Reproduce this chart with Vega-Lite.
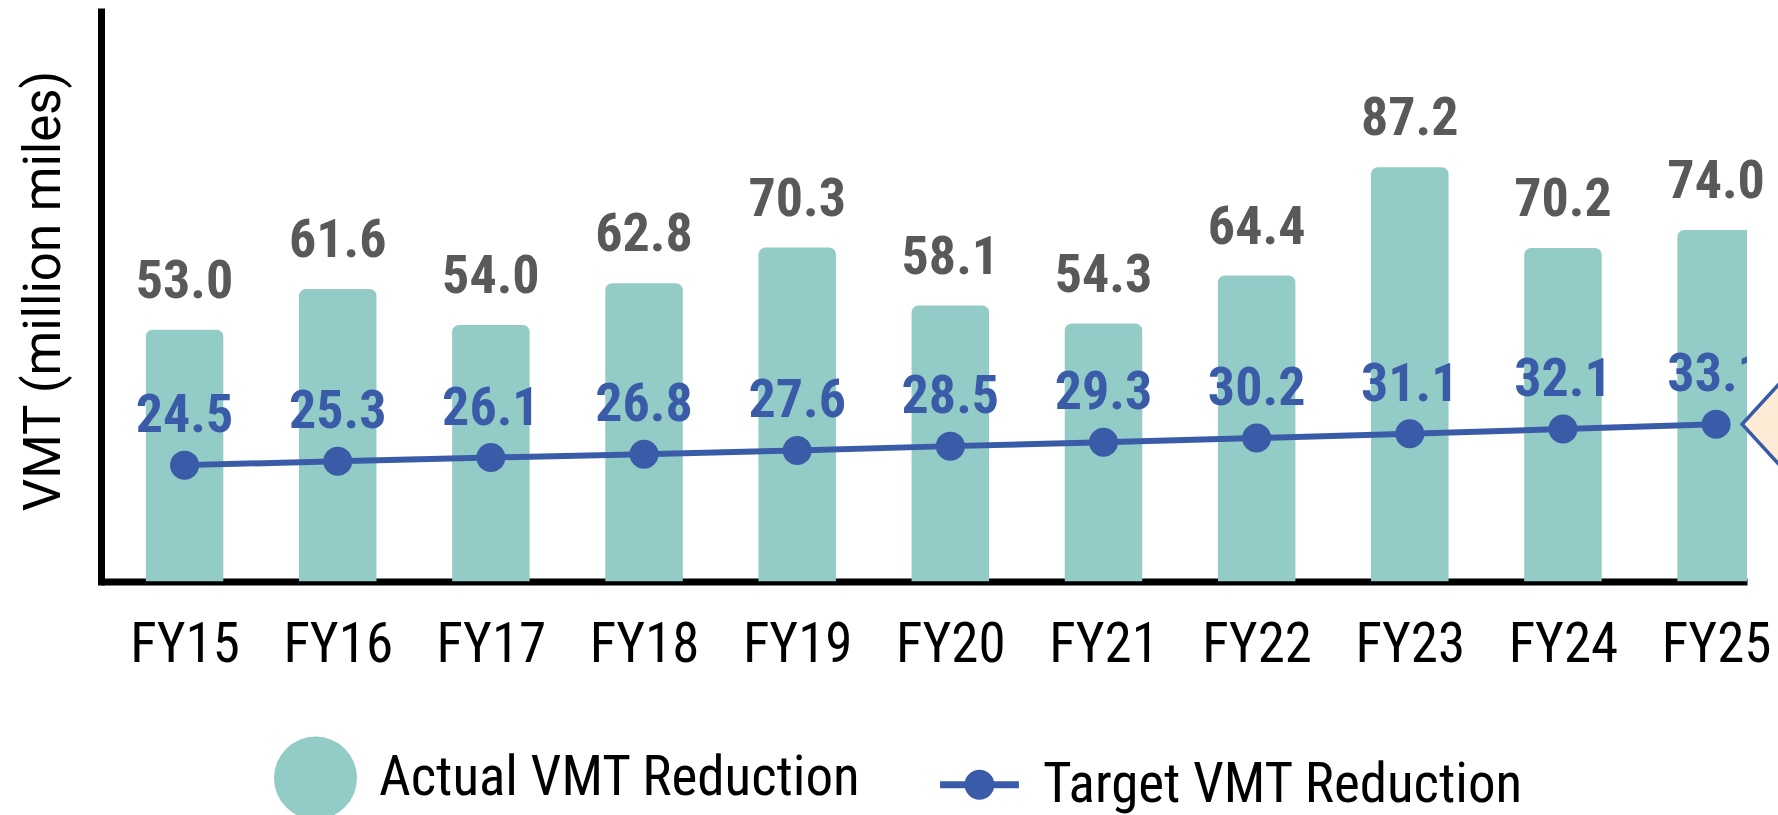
{
  "$schema": "https://vega.github.io/schema/vega-lite/v6.json",
  "width": 1646,
  "height": 570,
  "autosize": {"type": "none"},
  "padding": {"left": 101, "top": 11.5, "right": 31, "bottom": 233.5},
  "background": "white",
  "config": {
    "view": {"stroke": null},
    "axisY": {
      "grid": false,
      "ticks": false,
      "labels": false,
      "domainColor": "black",
      "domainWidth": 7,
      "domainCap": "square",
      "titleFont": "Roboto, sans-serif",
      "titleFontSize": 51,
      "titleFontWeight": "normal",
      "titleColor": "black",
      "titlePadding": 31,
      "titleY": 279
    },
    "legend": {
      "title": null,
      "orient": "none",
      "direction": "horizontal",
      "symbolSize": 6889,
      "symbolStrokeWidth": 0,
      "labelFont": "Roboto Condensed, Liberation Sans Narrow, DejaVu Sans Condensed, sans-serif",
      "labelFontSize": 55,
      "labelColor": "black",
      "labelOffset": 22,
      "columnPadding": 77,
      "labelLimit": 1000
    }
  },
  "data": {
    "values": [
      {"fy": 15, "actual": 53.0, "target": 24.5},
      {"fy": 16, "actual": 61.6, "target": 25.3},
      {"fy": 17, "actual": 54.0, "target": 26.1},
      {"fy": 18, "actual": 62.8, "target": 26.8},
      {"fy": 19, "actual": 70.3, "target": 27.6},
      {"fy": 20, "actual": 58.1, "target": 28.5},
      {"fy": 21, "actual": 54.3, "target": 29.3},
      {"fy": 22, "actual": 64.4, "target": 30.2},
      {"fy": 23, "actual": 87.2, "target": 31.1},
      {"fy": 24, "actual": 70.2, "target": 32.1},
      {"fy": 25, "actual": 74.0, "target": 33.1}
    ]
  },
  "encoding": {
    "x": {
      "field": "fy",
      "type": "quantitative",
      "scale": {"domain": [14.487, 25.169], "nice": false, "zero": false},
      "axis": {
        "title": null,
        "values": [15, 16, 17, 18, 19, 20, 21, 22, 23, 24, 25],
        "labelExpr": "'FY' + datum.value",
        "grid": false,
        "ticks": false,
        "tickSize": 0,
        "domainColor": "black",
        "domainWidth": 7,
        "labelFont": "Roboto Condensed, Liberation Sans Narrow, DejaVu Sans Condensed, sans-serif",
        "labelFontSize": 55,
        "labelColor": "black",
        "labelPadding": 37,
        "labelFlush": false,
        "labelOverlap": false,
        "labelBound": false
      }
    }
  },
  "layer": [
    {
      "mark": {"type": "bar", "orient": "vertical", "width": 77.5, "color": "#93CCC6", "cornerRadiusTopLeft": 7, "cornerRadiusTopRight": 7, "clip": true},
      "encoding": {
        "y": {
          "field": "actual",
          "type": "quantitative",
          "stack": null,
          "title": "VMT (million miles)",
          "scale": {"domain": [0, 120], "nice": false, "zero": true}
        },
        "y2": {"datum": 0}
      }
    },
    {
      "mark": {"type": "text", "dy": -32, "baseline": "alphabetic", "align": "center", "font": "Roboto Condensed, Liberation Sans Narrow, DejaVu Sans Condensed, sans-serif", "fontSize": 54, "fontWeight": "bold", "color": "#595959"},
      "encoding": {
        "y": {"field": "actual", "type": "quantitative", "title": "VMT (million miles)"},
        "text": {"field": "actual", "type": "quantitative", "format": ".1f"}
      }
    },
    {
      "mark": {"type": "line", "color": "#3A5CA8", "strokeWidth": 6},
      "encoding": {
        "y": {"field": "target", "type": "quantitative", "title": "VMT (million miles)"}
      }
    },
    {
      "mark": {"type": "point", "filled": true, "size": 841, "color": "#3A5CA8", "opacity": 1},
      "encoding": {
        "y": {"field": "target", "type": "quantitative", "title": "VMT (million miles)"}
      }
    },
    {
      "mark": {"type": "text", "clip": true, "dy": -33, "baseline": "alphabetic", "align": "center", "font": "Roboto Condensed, Liberation Sans Narrow, DejaVu Sans Condensed, sans-serif", "fontSize": 54, "fontWeight": "bold", "color": "#3A5CA8"},
      "encoding": {
        "y": {"field": "target", "type": "quantitative", "title": "VMT (million miles)"},
        "text": {"field": "target", "type": "quantitative", "format": ".1f"}
      }
    },
    {
      "transform": [{"filter": "datum.fy == 25"}],
      "mark": {"type": "point", "shape": "M 26 0 L 70 -48 L 70 -20 L 130 -20 L 130 20 L 70 20 L 70 48 Z", "size": 4, "filled": true, "fill": "#FDEBD6", "stroke": "#3A5CA8", "strokeWidth": 3.5, "opacity": 1},
      "encoding": {
        "y": {"field": "target", "type": "quantitative", "title": "VMT (million miles)"}
      }
    },
    {
      "data": {"values": []},
      "mark": {"type": "point", "filled": true, "opacity": 1},
      "encoding": {
        "color": {
          "field": "series",
          "type": "nominal",
          "scale": {"domain": ["Actual VMT Reduction", "Target VMT Reduction"], "range": ["#93CCC6", "#3A5CA8"]},
          "legend": {"orient": "none", "legendX": 173, "legendY": 725, "direction": "horizontal", "title": null}
        },
        "shape": {
          "field": "series",
          "type": "nominal",
          "scale": {"domain": ["Actual VMT Reduction", "Target VMT Reduction"], "range": ["circle", "M -0.95 -0.085 L 0.95 -0.085 L 0.95 0.085 L -0.95 0.085 Z M -0.36 0 A 0.36 0.36 0 1 1 0.36 0 A 0.36 0.36 0 1 1 -0.36 0 Z"]},
          "legend": {"orient": "none", "legendX": 173, "legendY": 725, "direction": "horizontal", "title": null}
        }
      }
    }
  ]
}
